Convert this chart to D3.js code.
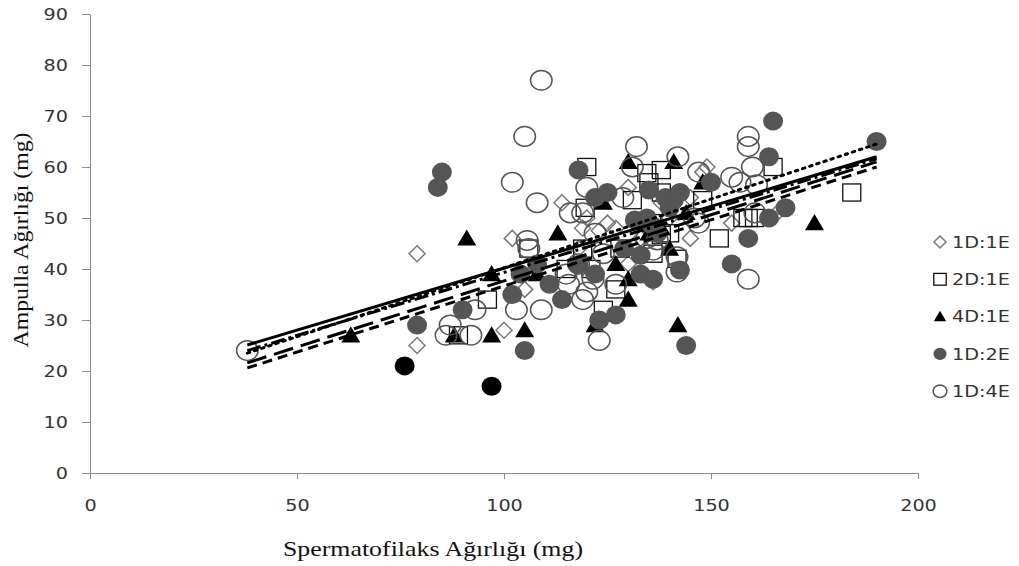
<!DOCTYPE html>
<html>
<head>
<meta charset="utf-8">
<script src="https://cdn.jsdelivr.net/npm/d3@7"></script>
<style>
  body { margin: 0; background: #fff; }
  svg { display: block; }
</style>
</head>
<body>
<div id="chart"></div>
<script>
// Data: [spermatofilaks, ampulla]
const d1e1 = [[79,43],[79,25],[100,28],[102,46],[105,36],[114,53],[119,48],[120,50],[123,47.5],[125,49],
  [127,48],[130,56],[130,41],[133,46],[135,49],[136,37.5],[140,50],[145,54],[145,46],[148,59],[149,60],
  [155,49],[166,51],[138,53],[118,44]];
const d2e1 = [[89,27],[96,34],[106,44],[115,40],[119,44],[120,60],[119.6,52],[121,40],[124,32],[127,36],
  [131,53.5],[134.5,58.8],[135,57],[138,55],[138,59.4],[135.7,49],[136,43],[138,46.7],[141.8,42],[148,53.5],
  [152,46],[157.7,50],[159,50],[160.5,50],[165,60],[184,55],[128,44],[140,47]];
const d4e1 = [[63,27],[88,27],[91,46],[97,39],[97,27],[105,28],[108,39],[113,47],[122,29],[124,53],
  [127,41],[130,38],[130,34],[130,61],[133,49],[140,44],[141,61],[142,29],[144,51],[148,57],[175,49],
  [135,47],[138,48]];
const d1e2 = [[84,56],[85,59],[79,29],[90,32],[102,35],[104,39],[105,24],[108,41],[111,37],[114,34],
  [118,40.8],[118,59.4],[122,54],[122,39],[123,30],[125,55],[127,31],[131.6,49.6],[133,42.7],[133,39],
  [134.5,50],[135,55.5],[136,38],[135.7,48.6],[139,54],[140,52],[142.5,55],[142.5,39.8],[144,25],[150,57],
  [155,41],[159,46],[164,62],[164,50],[165,69],[168,52],[190,65],[141,53.5],[137,47],[129,44]];
const d1e4 = [[38,24],[86,27],[87,29],[92,27],[93,32],[102,57],[103,32],[105,66],[105.6,45.6],[106,44],
  [108,53],[109,77],[109,32],[115,39],[115.6,37],[116,51],[119,51],[119,34],[120,56],[120,35.5],
  [121.5,38],[122,47],[123,26],[127,37],[128.7,54],[131,60],[132,64],[134.5,46],[136,43.7],[137,45.7],
  [141.8,42.4],[141.8,39.4],[142,62],[146,50],[147,59],[147,49],[155,58],[157,57],[159,66],[159,64],
  [159,38],[160,60],[160.6,51],[161,56.5],[124,43],[118,41]];
const extraPoints = [[76,21],[97,17]];

const seriesNames = ["1D:1E", "2D:1E", "4D:1E", "1D:2E", "1D:4E"];
const seriesData = [d1e1, d2e1, d4e1, d1e2, d1e4];

// trend lines: x range and y at both ends
const trendX = [38, 190];
const trendY = [[25.1, 62], [23.5, 64.5], [24, 61.6], [21.6, 61], [20.6, 60]];
const trendDash = [null, "2.5,5", "14,4,3,4", "20,8", "10,6"];

const xTicks = [0, 50, 100, 150, 200];
const yTicks = [0, 10, 20, 30, 40, 50, 60, 70, 80, 90];

const W = 1019, H = 566;
const svg = d3.select("#chart").append("svg")
  .attr("width", W).attr("height", H);

const x = d3.scaleLinear().domain([0, 200]).range([90, 918]);
const y = d3.scaleLinear().domain([0, 90]).range([473, 14]);

const axisColor = "#8c8c8c";
const labelColor = "#333";
const sans = "'DejaVu Sans', sans-serif";

// widen text a little, the original fonts run wide
function stretch(sel, k) {
  sel.each(function () {
    const w = this.getComputedTextLength();
    d3.select(this).attr("textLength", w * k).attr("lengthAdjust", "spacingAndGlyphs");
  });
}

// axes
const gx = svg.append("g").attr("transform", `translate(0,${y(0)})`)
  .call(d3.axisBottom(x).tickValues(xTicks).tickSize(6).tickSizeOuter(0));
const gy = svg.append("g").attr("transform", `translate(${x(0)},0)`)
  .call(d3.axisLeft(y).tickValues(yTicks).tickSize(8).tickSizeOuter(0));
[gx, gy].forEach(g => {
  g.selectAll("path, line").attr("stroke", axisColor);
  g.selectAll("text").attr("fill", labelColor)
    .style("font-family", sans).style("font-size", "16px");
  stretch(g.selectAll("text"), 1.2);
});
gx.selectAll("text").attr("y", 27);
gy.selectAll("text").attr("x", -22);

// markers
function drawMarker(g, kind, cx, cy, s) {
  if (kind === 0) {
    g.append("path")
      .attr("d", `M${cx},${cy - s}L${cx + s},${cy}L${cx},${cy + s}L${cx - s},${cy}Z`)
      .attr("fill", "none").attr("stroke", "#7a7a7a").attr("stroke-width", 1.5);
  } else if (kind === 1) {
    g.append("rect").attr("x", cx - s).attr("y", cy - s * 0.95)
      .attr("width", 2 * s).attr("height", 1.9 * s)
      .attr("fill", "none").attr("stroke", "#111").attr("stroke-width", 1.3);
  } else if (kind === 2) {
    g.append("path")
      .attr("d", `M${cx},${cy - s * 0.95}L${cx + s},${cy + s * 0.75}L${cx - s},${cy + s * 0.75}Z`)
      .attr("fill", "#000");
  } else if (kind === 3) {
    g.append("ellipse").attr("cx", cx).attr("cy", cy).attr("rx", s * 1.05).attr("ry", s)
      .attr("fill", "#555");
  } else if (kind === 4) {
    g.append("ellipse").attr("cx", cx).attr("cy", cy).attr("rx", s * 1.1).attr("ry", s)
      .attr("fill", "none").attr("stroke", "#555").attr("stroke-width", 1.5);
  } else {
    g.append("ellipse").attr("cx", cx).attr("cy", cy).attr("rx", s * 1.05).attr("ry", s)
      .attr("fill", "#000");
  }
}

const markerSize = [8, 9, 9.5, 9.5, 9.8];
const pts = svg.append("g");
seriesData.forEach((data, i) => {
  data.forEach(d => drawMarker(pts, i, x(d[0]), y(d[1]), markerSize[i]));
});
extraPoints.forEach(d => drawMarker(pts, 5, x(d[0]), y(d[1]), 9.5));

// trend lines
trendY.forEach((ys, i) => {
  svg.append("line")
    .attr("x1", x(trendX[0])).attr("y1", y(ys[0]))
    .attr("x2", x(trendX[1])).attr("y2", y(ys[1]))
    .attr("stroke", "#000").attr("stroke-width", 3)
    .attr("stroke-dasharray", trendDash[i])
    .attr("stroke-linecap", i === 1 ? "round" : "butt");
});

// legend
const leg = svg.append("g").attr("transform", "translate(940,242)");
seriesNames.forEach((name, i) => {
  const gy0 = i * 37.3;
  drawMarker(leg, i, 0, gy0, i === 0 ? 6 : 6.2);
  const t = leg.append("text").attr("x", 12).attr("y", gy0).attr("dy", "0.36em")
    .attr("fill", labelColor)
    .style("font-family", sans).style("font-size", "16px")
    .text(name);
  stretch(t, 1.2);
});

// axis titles
svg.append("text").attr("x", 433).attr("y", 556).attr("text-anchor", "middle")
  .attr("textLength", 300).attr("lengthAdjust", "spacingAndGlyphs")
  .style("font-family", "'Liberation Serif', serif").style("font-size", "21px")
  .attr("fill", "#111").text("Spermatofilaks Ağırlığı (mg)");
svg.append("text").attr("transform", "translate(28,240) rotate(-90)").attr("text-anchor", "middle")
  .attr("textLength", 215).attr("lengthAdjust", "spacingAndGlyphs")
  .style("font-family", "'Liberation Serif', serif").style("font-size", "21px")
  .attr("fill", "#111").text("Ampulla Ağırlığı (mg)");
</script>
</body>
</html>
